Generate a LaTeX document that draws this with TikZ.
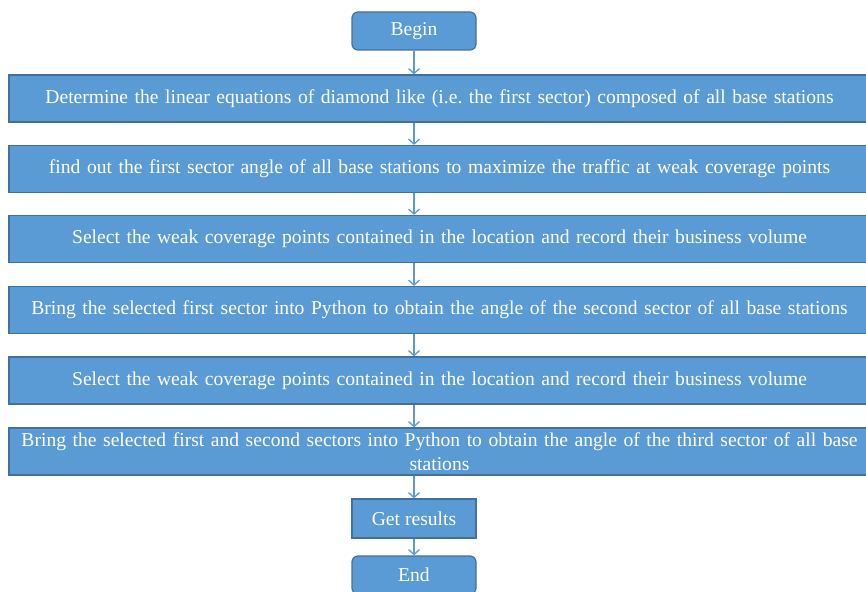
\documentclass[tikz,border=0pt]{standalone}
\usepackage{fontspec}
\setmainfont{Liberation Serif}
\usetikzlibrary{positioning,arrows.meta}
\definecolor{boxblue}{HTML}{5B9BD5}
\definecolor{edgeblue}{HTML}{41719C}
\tikzset{
  box/.style={draw=edgeblue,fill=boxblue,line width=1.2pt,text=white,inner sep=0pt,font=\fontsize{19.6}{24}\selectfont\frenchspacing},
  stepbox/.style={box,minimum width=861pt,minimum height=47pt,text width=845pt,align=center},
  termbox/.style={box,rounded corners=6pt,minimum width=124pt,minimum height=38pt},
  resbox/.style={box,minimum width=124pt,minimum height=39pt},
  flow/.style={draw=boxblue,line width=1.3pt,-{Straight Barb[length=5pt,width=11pt]}}
}
\begin{document}
\begin{tikzpicture}[x=1pt,y=-1pt]
\useasboundingbox (0,0) rectangle (866,591);
\pgfmathsetmacro{\mid}{439.5}
\node[termbox] (begin) at (414,31) {Begin};
\node[stepbox] (s1) at (\mid,98.5) {Determine the linear equations of diamond like (i.e. the first sector) composed of all base stations};
\node[stepbox] (s2) at (\mid,169) {find out the first sector angle of all base stations to maximize the traffic at weak coverage points};
\node[stepbox] (s3) at (\mid,239) {Select the weak coverage points contained in the location and record their business volume};
\node[stepbox] (s4) at (\mid,310) {Bring the selected first sector into Python to obtain the angle of the second sector of all base stations};
\node[stepbox] (s5) at (\mid,380.5) {Select the weak coverage points contained in the location and record their business volume};
\node[stepbox] (s6) at (\mid,451.5) {Bring the selected first and second sectors into Python to obtain the angle of the third sector of all base\\ stations};
\node[resbox] (res) at (414,518.5) {Get results};
\node[termbox] (end) at (414,575) {End};
\draw[flow] (begin.south) -- (begin.south |- s1.north);
\draw[flow] (begin.south |- s1.south) -- (begin.south |- s2.north);
\draw[flow] (begin.south |- s2.south) -- (begin.south |- s3.north);
\draw[flow] (begin.south |- s3.south) -- (begin.south |- s4.north);
\draw[flow] (begin.south |- s4.south) -- (begin.south |- s5.north);
\draw[flow] (begin.south |- s5.south) -- (begin.south |- s6.north);
\draw[flow] (res.north |- s6.south) -- (res.north);
\draw[flow] (res.south) -- (end.north);
\end{tikzpicture}
\end{document}
